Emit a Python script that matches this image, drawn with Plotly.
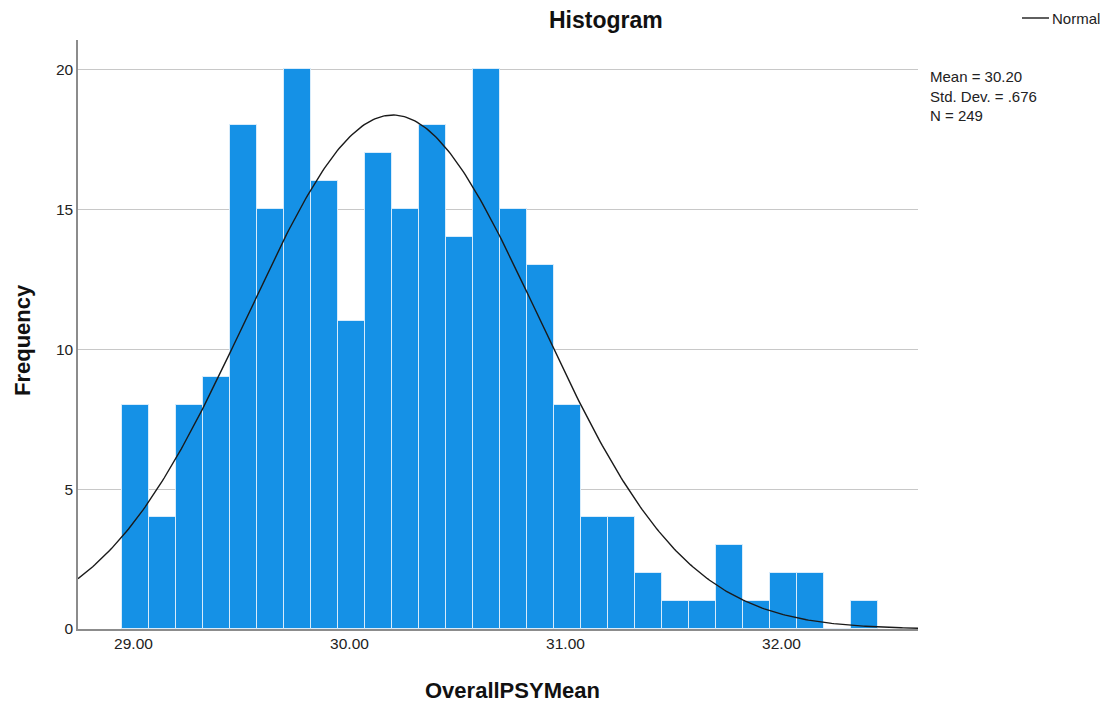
import numpy as np
import plotly.graph_objects as go

# Data
bin_start = 28.947
bin_width = 0.125
counts = [8, 4, 8, 9, 18, 15, 20, 16, 11, 17, 15, 18, 14, 20, 15, 13, 8, 4, 4, 2,
          1, 1, 3, 1, 2, 2, 0, 1]
mean_val = 30.20
sd_val = 0.676
n_val = 249
x_ticks = [29, 30, 31, 32]
x_tick_labels = ["29.00", "30.00", "31.00", "32.00"]
y_ticks = [0, 5, 10, 15, 20]

centers = [bin_start + bin_width * (i + 0.5) for i in range(len(counts))]

x_min, x_max = 28.743, 32.632
xs = np.linspace(x_min, x_max, 400)
ys = n_val * bin_width * np.exp(-0.5 * ((xs - mean_val) / sd_val) ** 2) / (sd_val * np.sqrt(2 * np.pi))

fig = go.Figure()
fig.add_trace(go.Bar(
    x=centers, y=counts, width=bin_width,
    marker=dict(color="#1591E6", line=dict(color="rgba(225,240,252,0.9)", width=1)),
    showlegend=False, hoverinfo="x+y"))
fig.add_trace(go.Scatter(x=xs, y=ys, mode="lines",
                         line=dict(color="#1a1a1a", width=1.4), showlegend=False))

font = "Liberation Sans, Arial, sans-serif"
W, H = 1106, 704
L, T = 78, 40
pw, ph = 840, 589
R = W - L - pw
B = H - T - ph
fig.update_layout(
    width=W, height=H,
    margin=dict(l=L, r=R, t=T, b=B),
    paper_bgcolor="white", plot_bgcolor="white",
    font=dict(family=font, size=15, color="#222"),
    bargap=0,
    xaxis=dict(range=[x_min, x_max], tickvals=x_ticks, ticktext=x_tick_labels,
               showgrid=False, zeroline=False, showline=True, linecolor="#8c8c8c",
               linewidth=1.5, ticks="", tickfont=dict(size=15.5, color="#222")),
    yaxis=dict(range=[0, 21.05], tickvals=y_ticks, showgrid=True, gridcolor="#c8c8c8",
               gridwidth=1.2, zeroline=False, showline=True, linecolor="#8c8c8c",
               linewidth=1.5, ticks="", tickfont=dict(size=15.5, color="#222")),
)

def px(xp):
    return (xp - L) / pw
def py(yp):
    return 1 - (yp - T) / ph

ann = [
    dict(text="<b>Histogram</b>", x=px(606), y=py(20), xref="paper", yref="paper",
         showarrow=False, font=dict(size=23, color="#111"), xanchor="center", yanchor="middle"),
    dict(text="<b>OverallPSYMean</b>", x=px(512), y=py(690), xref="paper", yref="paper",
         showarrow=False, font=dict(size=22, color="#111"), xanchor="center", yanchor="middle"),
    dict(text="<b>Frequency</b>", x=px(22), y=py(340), xref="paper", yref="paper", textangle=-90,
         showarrow=False, font=dict(size=22, color="#111"), xanchor="center", yanchor="middle"),
    dict(text="Mean = 30.20<br>Std. Dev. = .676<br>N = 249", x=px(928), y=py(66),
         xref="paper", yref="paper", showarrow=False, align="left",
         font=dict(size=15, color="#222"), xanchor="left", yanchor="top"),
    dict(text="Normal", x=px(1050), y=py(18), xref="paper", yref="paper", showarrow=False,
         font=dict(size=15, color="#222"), xanchor="left", yanchor="middle"),
]
fig.update_layout(annotations=ann)
fig.add_shape(type="line", xref="paper", yref="paper", x0=px(1022), x1=px(1049),
              y0=py(18), y1=py(18), line=dict(color="#1a1a1a", width=1.4))

fig.write_html("out.html", config={"displayModeBar": False},
               post_script="document.body.style.margin='0';document.body.style.overflow='hidden';")
